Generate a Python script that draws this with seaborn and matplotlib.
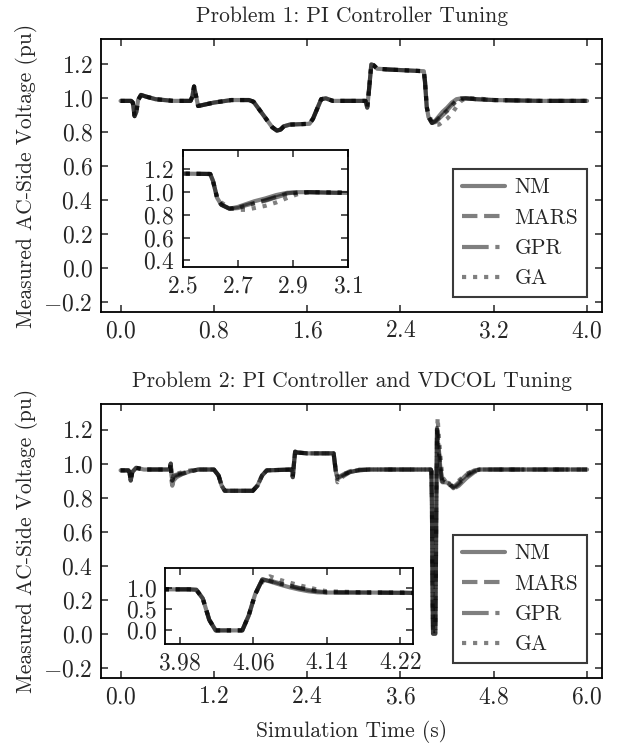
import matplotlib
matplotlib.use("Agg")
import matplotlib.pyplot as plt
import seaborn as sns

# Metodos e estilos
metodos = ["NM", "MARS", "GPR", "GA"]
estilos = ["-", "--", "-.", ":"]

# Problema 1: tensao medida (pu) ao longo do tempo (s)
t1 = [0.00, 0.09, 0.105, 0.12, 0.135, 0.15, 0.175, 0.22, 0.30, 0.45, 0.60, 0.615, 0.63, 0.645,
      0.665, 0.70, 0.80, 0.95, 1.10, 1.14, 1.30, 1.34, 1.37, 1.40, 1.45, 1.62, 1.65, 1.72, 1.76,
      1.82, 2.10, 2.115, 2.13, 2.15, 2.17, 2.20, 2.30, 2.45, 2.60, 2.61,
      2.625, 2.64, 2.67, 2.70, 2.73, 2.76, 2.80, 2.84, 2.88, 2.92, 2.96, 3.05, 3.20, 3.60, 4.00]
v1_comum = [0.985, 0.985, 0.975, 0.895, 0.92, 0.99, 1.02, 1.01, 0.995, 0.985, 0.985, 1.01, 1.07, 1.02,
            0.955, 0.96, 0.975, 0.99, 0.99, 0.98, 0.83, 0.81, 0.815, 0.835, 0.845, 0.85, 0.88, 0.995, 1.0,
            0.985, 0.985, 0.945, 1.05, 1.20, 1.195, 1.175, 1.17, 1.165, 1.16, 1.10]
v1_nm = v1_comum + [0.95, 0.89, 0.855, 0.87, 0.895, 0.92, 0.945, 0.975, 0.995, 1.0, 1.0, 0.995, 0.99, 0.985, 0.985]
v1_mars = v1_comum + [0.95, 0.89, 0.855, 0.865, 0.885, 0.905, 0.93, 0.96, 0.99, 1.0, 1.0, 0.995, 0.99, 0.985, 0.985]
v1_gpr = v1_comum + [0.95, 0.89, 0.855, 0.86, 0.88, 0.90, 0.925, 0.955, 0.985, 0.995, 1.0, 0.995, 0.99, 0.985, 0.985]
v1_ga = v1_comum + [0.95, 0.91, 0.86, 0.845, 0.845, 0.86, 0.88, 0.91, 0.95, 0.985, 1.0, 1.0, 0.99, 0.985, 0.985]

# Problema 2
t2_a = [0.00, 0.10, 0.115, 0.13, 0.15, 0.20, 0.30, 0.62, 0.635, 0.645]
v2_a = [0.96, 0.96, 0.95, 0.90, 0.95, 0.975, 0.965, 0.965, 0.97, 1.0]
t2_b = [0.655, 0.665, 0.68, 0.72, 0.80, 0.90, 1.00, 1.10]
v2_b_nm = [0.93, 0.90, 0.92, 0.93, 0.94, 0.955, 0.965, 0.965]
v2_b_mars = [0.93, 0.91, 0.93, 0.935, 0.945, 0.955, 0.965, 0.965]
v2_b_gpr = [0.90, 0.87, 0.90, 0.92, 0.94, 0.955, 0.965, 0.965]
v2_b_ga = [0.93, 0.90, 0.93, 0.94, 0.95, 0.96, 0.965, 0.965]
t2_c = [1.20, 1.26, 1.30, 1.34, 1.70, 1.76, 1.82, 1.88, 2.20, 2.215, 2.23, 2.245, 2.27, 2.40, 2.74]
v2_c = [0.965, 0.93, 0.87, 0.84, 0.84, 0.87, 0.93, 0.96, 0.965, 0.92, 1.0, 1.07, 1.065, 1.06, 1.06]
t2_d = [2.77, 2.79, 2.82, 2.88, 2.95, 3.05, 3.20]
v2_d_nm = [0.95, 0.91, 0.92, 0.935, 0.95, 0.96, 0.965]
v2_d_mars = [0.95, 0.92, 0.925, 0.94, 0.955, 0.965, 0.965]
v2_d_gpr = [0.94, 0.89, 0.91, 0.93, 0.95, 0.96, 0.965]
v2_d_ga = [0.95, 0.92, 0.93, 0.94, 0.95, 0.96, 0.965]
t2_e = [3.99, 3.998, 4.005, 4.012, 4.019, 4.048, 4.055, 4.062]
v2_e = [0.965, 0.955, 0.75, 0.25, 0.0, 0.0, 0.35, 0.85]
t2_f = [4.07, 4.078, 4.09, 4.10, 4.11, 4.12, 4.13, 4.14, 4.18, 4.225, 4.25, 4.28, 4.35, 4.45, 4.55, 4.62, 6.00]
v2_f_nm = [1.20, 1.15, 1.07, 1.01, 0.96, 0.92, 0.895, 0.89, 0.89, 0.885, 0.87, 0.86, 0.89, 0.935, 0.96, 0.965, 0.965]
v2_f_mars = [1.21, 1.17, 1.10, 1.05, 1.00, 0.96, 0.92, 0.895, 0.89, 0.885, 0.87, 0.855, 0.88, 0.925, 0.955, 0.965, 0.965]
v2_f_gpr = [1.20, 1.16, 1.09, 1.04, 0.99, 0.95, 0.915, 0.895, 0.89, 0.88, 0.865, 0.85, 0.87, 0.915, 0.95, 0.965, 0.965]
v2_f_ga = [1.15, 1.27, 1.18, 1.12, 1.06, 1.01, 0.96, 0.92, 0.895, 0.89, 0.875, 0.865, 0.90, 0.94, 0.96, 0.965, 0.965]

t2 = t2_a + t2_b + t2_c + t2_d + t2_e + t2_f
v2_nm = v2_a + v2_b_nm + v2_c + v2_d_nm + v2_e + v2_f_nm
v2_mars = v2_a + v2_b_mars + v2_c + v2_d_mars + v2_e + v2_f_mars
v2_gpr = v2_a + v2_b_gpr + v2_c + v2_d_gpr + v2_e + v2_f_gpr
v2_ga = v2_a + v2_b_ga + v2_c + v2_d_ga + v2_e + v2_f_ga

serie1 = dict(zip(metodos, [v1_nm, v1_mars, v1_gpr, v1_ga]))
serie2 = dict(zip(metodos, [v2_nm, v2_mars, v2_gpr, v2_ga]))

# Estilo
sns.set_style("ticks")
plt.rcParams["font.family"] = ["cmr10"]
plt.rcParams["mathtext.fontset"] = "cm"
plt.rcParams["axes.formatter.use_mathtext"] = True
plt.rcParams["font.size"] = 15


def desenha(ax, t, series):
    for nome, ls in zip(metodos, estilos):
        sns.lineplot(x=t, y=series[nome], ax=ax, color="k", alpha=0.5, lw=3.0,
                     linestyle=ls, label=nome, sort=False, estimator=None, legend=False)
    ax.set_xlabel("")
    ax.set_ylabel("")


def ajusta(ax, lw=1.3):
    ax.tick_params(direction="in", top=True, right=True, length=5, width=1.1, labelsize=17, pad=6)
    for s in ax.spines.values():
        s.set_linewidth(lw)
        s.set_color("k")


fig = plt.figure(figsize=(6.43, 7.47), dpi=100)
ax1 = fig.add_axes([101 / 643, 1 - 312 / 747, 501 / 643, 273 / 747])
ax2 = fig.add_axes([101 / 643, 1 - 678 / 747, 501 / 643, 274 / 747])

for ax, t, serie, titulo, xt in [
    (ax1, t1, serie1, "Problem 1: PI Controller Tuning", [0.0, 0.8, 1.6, 2.4, 3.2, 4.0]),
    (ax2, t2, serie2, "Problem 2: PI Controller and VDCOL Tuning", [0.0, 1.2, 2.4, 3.6, 4.8, 6.0]),
]:
    desenha(ax, t, serie)
    ax.set_xticks(xt)
    ax.set_xlim(xt[0] - 0.042 * xt[-1], xt[-1] * 1.032)
    ax.set_yticks([-0.2, 0.0, 0.2, 0.4, 0.6, 0.8, 1.0, 1.2])
    ax.set_ylim(-0.26, 1.35)
    ax.set_title(titulo, fontsize=15.5, pad=12)
    ax.set_ylabel("Measured AC-Side Voltage (pu)", fontsize=15.5)
    ajusta(ax)
    leg = ax.legend(loc="lower right", fancybox=False, framealpha=1, edgecolor="#3a3a3a",
                    borderaxespad=0.7, handlelength=2.0, handletextpad=0.45, fontsize=15.5)
    leg.get_frame().set_linewidth(1.5)

ax2.set_xlabel("Simulation Time (s)", fontsize=15.5, labelpad=8)

# Insets
ins1 = ax1.inset_axes([0.163, 0.164, 0.33, 0.429])
desenha(ins1, t1, serie1)
ins1.set_xlim(2.5, 3.1)
ins1.set_xticks([2.5, 2.7, 2.9, 3.1])
ins1.set_ylim(0.34, 1.37)
ins1.set_yticks([0.4, 0.6, 0.8, 1.0, 1.2])
ajusta(ins1)

ins2 = ax2.inset_axes([0.128, 0.124, 0.495, 0.278])
desenha(ins2, t2, serie2)
ins2.set_xlim(3.964, 4.234)
ins2.set_xticks([3.98, 4.06, 4.14, 4.22])
ins2.set_ylim(-0.32, 1.47)
ins2.set_yticks([0.0, 0.5, 1.0])
ajusta(ins2)

fig.savefig("out.png", dpi=100)
